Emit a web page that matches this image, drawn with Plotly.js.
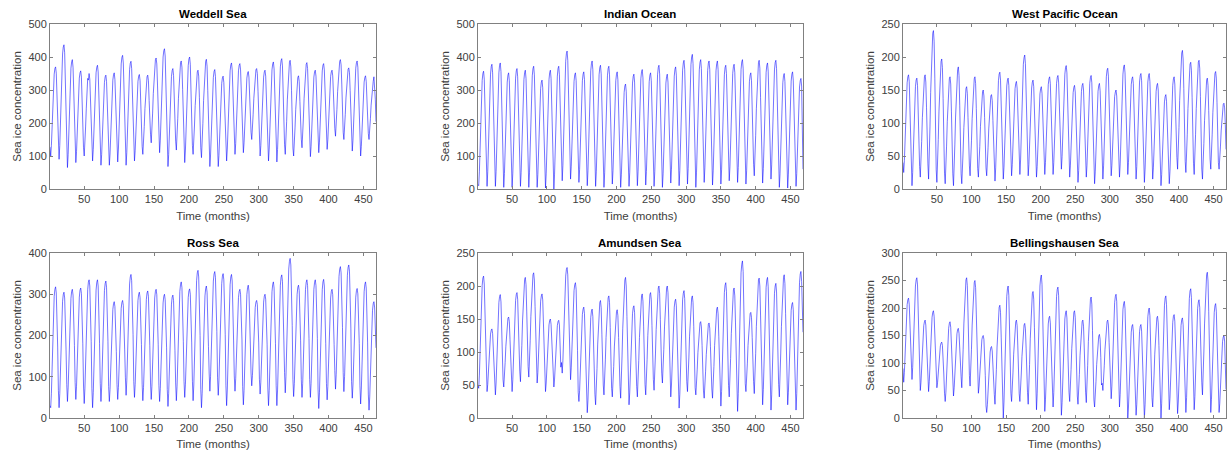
<!DOCTYPE html>
<html>
<head>
<meta charset="utf-8">
<script src="https://cdn.plot.ly/plotly-3.0.1.min.js"></script>
<style>
html,body{margin:0;padding:0;overflow:hidden;background:#fff;}
#chart{width:1227px;height:450px;}
</style>
</head>
<body>
<div id="chart"></div>
<script>
// Panel titles
const titles = ["Weddell Sea", "Indian Ocean", "West Pacific Ocean", "Ross Sea", "Amundsen Sea", "Bellingshausen Sea"];
const xTickVals = [50, 100, 150, 200, 250, 300, 350, 400, 450];
const yMax = [500, 500, 250, 400, 250, 300];
const yStep = [100, 100, 50, 100, 50, 50];

// Monthly values (468 months)
const weddell = [
127,100,132,195,257,311,348,365,370,351,284,181,
125,90,132,211,291,361,409,430,437,413,326,194,
98,65,104,179,255,320,366,385,392,369,287,163,
108,80,113,177,241,297,336,352,358,339,269,163,
125,100,130,188,245,295,335,330,350,333,270,175,
114,85,120,187,253,311,352,369,375,355,282,172,
99,72,105,168,230,285,323,340,345,326,258,154,
100,72,106,170,234,290,330,346,352,332,262,156,
114,82,121,195,269,334,379,399,405,382,302,179,
104,72,110,182,255,318,362,381,387,365,286,167,
111,85,116,177,237,289,326,342,347,329,263,164,
129,105,134,189,244,292,326,340,345,328,268,177,
166,140,171,230,289,340,376,392,397,379,315,217,
142,110,148,220,293,356,400,419,425,403,324,205,
98,68,104,172,240,300,341,359,365,344,270,157,
145,118,150,213,275,329,366,383,388,369,302,199,
112,80,118,192,266,330,374,394,400,378,298,176,
131,105,136,194,253,304,340,355,360,342,278,182,
125,95,131,199,268,327,369,387,393,372,298,184,
97,68,103,171,239,297,338,356,362,341,268,156,
95,68,101,164,227,282,320,337,342,323,254,150,
115,85,121,189,257,317,358,376,382,361,287,174,
133,105,138,201,265,320,358,375,380,361,292,188,
135,110,140,196,253,302,336,351,356,339,277,184,
172,150,176,225,275,318,348,361,365,350,296,215,
126,100,131,191,251,303,339,355,360,342,277,178,
115,85,121,190,259,319,361,379,385,364,289,175,
113,82,120,192,264,326,370,389,395,373,295,176,
134,105,139,205,270,327,367,384,390,370,299,191,
124,100,129,185,241,290,324,338,343,326,265,173,
151,125,156,215,275,326,362,378,383,365,300,202,
124,98,129,190,250,302,339,355,360,342,276,177,
137,110,142,205,267,321,358,375,380,361,294,191,
144,120,149,204,259,307,341,355,360,343,283,192,
183,160,188,241,295,341,373,387,392,376,318,230,
172,150,176,226,276,319,350,363,367,352,298,215,
142,115,148,211,273,328,366,383,388,369,301,197,
124,100,129,185,241,290,324,338,343,326,265,173,
168,150,172,213,254,290,316,326,340,317,272,204];

const indian = [
14,10,52,131,211,281,329,350,357,333,246,114,
45,8,52,138,223,297,348,371,378,352,260,119,
45,8,53,139,225,300,352,375,382,356,262,120,
40,5,47,126,206,276,324,345,352,328,241,109,
41,5,48,131,214,286,336,358,365,340,250,113,
43,8,50,131,212,283,332,353,360,335,247,114,
42,5,49,133,218,291,343,365,372,346,255,115,
38,5,44,119,194,259,304,324,330,307,226,103,
39,3,46,128,210,281,331,353,360,335,246,110,
37,0,45,130,216,290,342,365,372,346,253,112,
64,25,72,163,253,332,387,410,418,390,292,143,
62,30,69,143,217,281,326,346,352,329,249,127,
54,20,60,137,214,281,328,348,355,332,248,121,
48,10,55,142,229,305,358,380,388,362,267,123,
45,8,52,136,221,294,346,368,375,349,258,118,
42,5,49,133,218,291,343,365,372,346,255,115,
49,15,56,134,212,280,328,348,355,331,246,117,
36,5,43,115,187,249,293,312,318,296,218,99,
42,8,49,127,205,273,321,341,348,324,239,110,
45,10,52,133,214,285,334,355,362,337,249,116,
46,12,53,131,209,277,325,345,352,328,243,114,
45,8,52,136,221,294,346,368,375,349,258,118,
39,5,46,125,204,273,321,341,348,324,238,108,
53,18,60,141,222,293,342,363,370,345,257,124,
48,10,56,143,230,306,360,382,390,363,268,124,
54,15,62,153,243,322,377,400,408,380,282,133,
44,5,51,140,229,307,361,384,392,365,268,121,
57,20,64,149,233,307,359,381,388,362,270,130,
50,12,57,144,230,305,358,380,388,362,268,125,
51,15,58,141,224,296,346,368,375,350,260,123,
60,25,67,149,230,300,350,371,378,353,265,131,
57,20,65,150,236,310,362,385,392,366,273,132,
49,15,55,133,210,278,325,345,352,328,244,116,
75,40,82,163,243,313,362,383,390,366,278,145,
54,18,62,145,229,302,353,375,382,357,266,127,
66,30,73,156,239,311,361,383,390,365,275,138,
40,5,46,126,205,274,322,343,350,326,240,109,
38,3,45,126,207,278,327,348,355,330,242,109,
41,8,47,122,198,263,309,328,335,312,230,60];

const westPacific = [
40,25,43,77,111,140,161,170,173,163,126,69,
21,5,25,62,100,132,155,165,168,157,116,54,
34,18,37,72,108,139,161,170,173,162,123,65,
38,15,42,94,146,191,222,236,240,224,168,83,
29,10,32,75,118,156,182,193,197,184,137,66,
24,8,27,65,102,134,157,167,170,159,118,57,
23,5,27,68,109,145,171,181,185,172,127,59,
23,8,26,59,93,123,143,152,155,145,108,52,
35,20,38,73,107,137,158,167,170,160,122,65,
31,18,34,64,95,121,139,147,150,141,108,58,
32,20,35,63,91,116,133,141,143,134,104,57,
29,12,32,70,108,141,164,174,177,165,124,62,
30,15,33,69,104,134,156,165,168,157,119,61,
34,20,37,70,103,132,152,160,163,153,117,63,
40,22,44,85,127,163,189,199,203,190,145,76,
35,20,37,71,104,133,153,162,165,155,119,64,
32,18,34,66,97,125,144,152,155,145,111,59,
37,22,40,74,108,137,158,167,170,160,123,66,
37,22,40,75,109,139,160,169,172,162,124,67,
46,30,49,85,121,152,174,184,187,176,137,77,
32,18,35,67,99,126,146,154,157,147,113,60,
25,10,28,63,97,127,148,157,160,150,112,55,
33,18,36,72,107,138,160,169,172,161,123,64,
23,8,26,61,96,127,148,157,160,149,111,54,
32,15,35,74,112,146,170,180,183,171,129,65,
33,20,36,66,95,121,140,147,150,141,108,59,
35,18,38,78,117,151,174,185,188,176,134,69,
37,22,40,74,108,137,158,167,170,160,123,66,
31,15,34,71,108,140,162,172,175,164,124,63,
27,10,30,68,106,139,162,172,175,163,122,60,
30,15,32,66,99,128,148,157,160,150,114,59,
19,5,22,53,85,113,132,140,143,133,99,46,
24,8,27,65,102,134,157,167,170,159,118,57,
48,30,52,93,134,170,196,206,210,197,152,84,
42,25,45,83,122,155,179,189,192,180,139,75,
39,22,43,83,122,157,181,192,195,183,140,74,
30,15,33,69,104,134,156,165,168,157,119,61,
45,30,48,82,116,145,166,175,178,168,131,74,
40,30,42,65,88,108,122,128,130,123,98,60];

const ross = [
30,25,60,128,195,254,295,312,318,303,259,172,
67,25,59,123,187,243,283,299,305,291,249,165,
81,40,73,135,198,252,290,307,312,298,258,176,
86,45,77,140,202,256,293,310,315,302,261,180,
80,35,71,140,209,269,311,329,335,320,275,185,
72,25,62,134,205,267,310,329,335,320,273,180,
84,40,75,142,209,268,309,326,332,317,274,186,
76,40,69,125,180,229,263,277,282,270,234,161,
81,45,74,129,184,232,266,280,285,273,237,165,
99,55,90,158,225,284,325,342,348,333,289,202,
88,50,81,139,198,249,285,300,305,292,254,178,
82,42,74,135,196,249,287,303,308,295,255,175,
85,45,77,138,200,253,291,307,312,299,259,179,
79,40,71,131,191,243,279,295,300,287,248,170,
69,28,60,123,185,239,276,293,298,285,244,163,
85,42,77,143,209,267,307,324,330,316,272,186,
89,50,82,142,203,255,292,308,313,300,260,182,
89,42,80,153,225,288,333,352,358,342,295,200,
69,25,60,128,196,255,296,314,320,305,261,173,
109,65,100,167,233,291,332,349,355,341,297,210,
99,55,90,158,226,285,326,344,350,335,291,203,
78,30,68,141,214,278,323,342,348,332,284,189,
102,65,95,151,208,258,292,307,312,300,263,189,
76,32,67,134,200,258,299,316,322,308,264,177,
109,78,103,150,198,239,268,281,285,275,244,182,
94,58,87,143,198,247,281,295,300,288,252,179,
75,30,66,135,204,264,306,324,330,315,270,180,
78,30,68,141,214,277,322,341,347,331,284,189,
110,61,100,175,250,315,361,380,387,371,322,224,
93,52,84,147,209,263,300,317,322,309,268,187,
93,50,84,150,215,272,312,329,335,321,278,193,
93,50,84,150,215,272,312,329,335,321,278,193,
70,23,61,133,205,267,311,330,336,320,273,180,
84,44,76,138,199,253,291,307,312,299,258,178,
115,70,106,174,242,302,343,361,367,352,308,219,
110,64,101,171,242,303,346,365,371,356,310,218,
88,48,80,141,202,255,293,309,314,301,261,181,
78,34,70,138,206,265,306,324,330,315,271,182,
58,19,51,111,172,224,261,277,282,269,229,170];

const amundsen = [
50,45,65,105,144,178,201,212,215,203,161,96,
50,40,51,73,95,114,127,133,135,128,105,69,
50,35,53,88,123,154,175,184,187,176,138,81,
58,47,60,84,108,130,145,151,153,146,119,79,
55,40,58,93,127,157,178,187,190,180,142,85,
71,55,74,110,147,178,200,210,213,202,162,102,
78,62,81,117,154,185,207,217,220,209,169,109,
67,53,69,100,131,158,177,185,188,179,145,94,
51,40,53,79,104,126,141,148,150,142,115,73,
57,47,59,82,106,126,140,146,148,141,116,77,
84,68,87,124,161,193,215,225,228,217,177,116,
73,58,76,109,143,173,193,202,205,195,158,102,
39,25,42,75,108,137,157,165,168,158,122,68,
24,8,27,63,99,130,152,162,165,154,115,55,
36,20,39,75,112,143,165,175,178,167,127,67,
50,35,53,88,122,152,173,182,185,175,137,80,
45,32,48,78,109,135,153,161,164,155,122,72,
48,30,52,94,136,173,198,209,213,200,154,85,
35,20,38,73,107,137,158,167,170,160,122,65,
48,32,51,87,122,154,176,185,188,177,138,79,
51,35,54,89,125,156,178,187,190,179,140,82,
58,42,61,97,134,165,187,197,200,189,149,89,
68,53,71,104,138,168,188,197,200,190,153,97,
47,32,50,84,118,147,168,177,180,170,133,76,
33,15,36,77,118,154,179,189,193,181,136,68,
55,40,57,91,124,153,173,182,185,175,139,84,
46,35,48,74,99,122,137,144,146,138,110,68,
41,30,44,70,96,119,135,142,144,136,108,64,
44,30,47,78,110,138,157,165,168,158,124,71,
37,18,40,83,126,164,190,201,205,192,145,74,
49,32,52,90,128,161,184,194,197,185,144,82,
33,10,37,90,142,188,220,233,238,222,165,78,
52,40,54,82,110,134,150,158,160,152,122,76,
55,37,58,98,139,174,198,209,212,200,156,90,
39,20,43,88,132,171,198,209,213,199,151,78,
31,12,35,79,123,162,189,200,204,191,143,70,
51,32,54,97,139,176,202,213,217,204,158,88,
36,20,39,74,110,141,163,172,175,164,125,67,
33,12,37,86,134,176,205,218,222,207,155,130];

const bellingshausen = [
90,65,83,119,154,184,206,215,218,207,169,111,
89,70,92,135,177,214,240,251,255,242,196,126,
63,50,65,95,124,150,168,175,178,169,137,88,
63,48,66,99,133,163,183,192,195,185,148,92,
63,55,65,84,103,120,131,136,138,132,111,80,
45,30,47,81,114,143,163,172,175,165,129,74,
52,40,55,83,111,136,153,161,163,154,124,77,
75,55,79,125,171,211,239,251,255,241,191,115,
77,58,81,125,169,208,235,246,250,237,189,116,
56,45,58,82,106,127,142,148,150,143,116,77,
22,10,24,52,80,104,120,128,130,122,92,46,
43,25,47,88,129,165,191,201,205,192,147,79,
24,0,29,84,139,187,221,235,240,223,163,72,
45,30,48,82,116,145,166,175,178,168,131,74,
44,30,47,80,112,141,161,169,172,162,127,73,
46,25,50,97,144,185,214,226,230,216,164,87,
40,15,44,101,157,206,240,255,260,243,182,89,
29,12,33,73,112,147,171,182,185,173,130,64,
42,20,46,96,146,190,221,234,238,223,168,85,
24,5,28,72,115,153,180,191,195,182,134,62,
47,30,50,88,126,159,182,192,195,183,142,80,
40,25,43,79,114,144,166,175,178,167,129,71,
47,28,51,95,139,178,205,216,220,207,159,86,
33,20,36,66,97,123,141,149,152,143,110,60,
63,50,65,95,124,150,168,175,178,169,137,88,
54,35,58,102,145,183,210,221,225,212,164,92,
39,20,43,87,131,170,197,208,212,199,151,78,
17,0,20,60,99,133,156,167,170,158,116,51,
22,5,25,63,101,134,157,167,170,158,117,55,
20,0,24,70,116,156,184,196,200,186,136,60,
37,20,40,78,116,149,172,182,185,173,132,70,
22,0,27,78,129,173,204,218,222,206,151,67,
32,15,36,76,115,150,174,185,188,176,133,67,
25,8,29,69,109,144,168,179,182,170,126,60,
33,10,37,89,141,186,217,231,235,219,163,78,
35,15,39,85,131,171,199,211,215,201,151,75,
64,42,69,120,171,216,247,261,265,249,194,109,
30,10,34,79,125,164,192,204,208,194,145,69,
24,10,27,59,91,119,139,147,150,140,105,52];

const series = [weddell, indian, westPacific, ross, amundsen, bellingshausen];
const months = Array.from({length: weddell.length}, (_, i) => i + 1);

// Layout geometry (px in a 1227 x 450 canvas)
const W = 1227, H = 450;
const colPx = [[50, 376], [478, 803], [903, 1226]];
const rowPx = [[24, 189], [253, 418]];

const traces = [];
const layout = {
  width: W, height: H,
  margin: {l: 0, r: 0, t: 0, b: 0},
  paper_bgcolor: '#ffffff', plot_bgcolor: '#ffffff',
  showlegend: false,
  font: {family: 'Liberation Sans, Arial, sans-serif', size: 11, color: '#404040'},
  annotations: []
};

for (let k = 0; k < 6; k++) {
  const r = Math.floor(k / 3), c = k % 3;
  const sfx = k === 0 ? '' : String(k + 1);
  traces.push({
    type: 'scatter', mode: 'lines',
    x: months, y: series[k],
    xaxis: 'x' + sfx, yaxis: 'y' + sfx,
    line: {color: '#0000ff', width: 0.55},
    hoverinfo: 'skip'
  });
  const xd = [colPx[c][0] / W, colPx[c][1] / W];
  const yd = [1 - rowPx[r][1] / H, 1 - rowPx[r][0] / H];
  const common = {
    showline: true, linecolor: '#808080', linewidth: 1, mirror: 'ticks',
    ticks: 'inside', ticklen: 3, tickwidth: 1, tickcolor: '#808080',
    showgrid: false, zeroline: false, automargin: false,
    tickfont: {size: 11, color: '#404040', family: 'Liberation Sans, Arial, sans-serif'}
  };
  layout['xaxis' + sfx] = Object.assign({}, common, {
    domain: xd, range: [1, months.length], tickmode: 'array', tickvals: xTickVals,
    anchor: 'y' + sfx,
    title: {text: 'Time (months)', standoff: 7, font: {size: 11.5, color: '#404040'}}
  });
  layout['yaxis' + sfx] = Object.assign({}, common, {
    domain: yd, range: [0, yMax[k]], dtick: yStep[k], tick0: 0,
    anchor: 'x' + sfx,
    title: {text: 'Sea ice concentration', standoff: 4, font: {size: 11.5, color: '#404040'}}
  });
  layout.annotations.push({
    text: '<b>' + titles[k] + '</b>',
    xref: 'paper', yref: 'paper',
    x: (xd[0] + xd[1]) / 2, y: yd[1],
    xanchor: 'center', yanchor: 'bottom', yshift: 2,
    showarrow: false,
    font: {size: 11.5, color: '#000000', family: 'Liberation Sans, Arial, sans-serif'}
  });
}

Plotly.newPlot('chart', traces, layout, {staticPlot: true, displayModeBar: false});
</script>
</body>
</html>
